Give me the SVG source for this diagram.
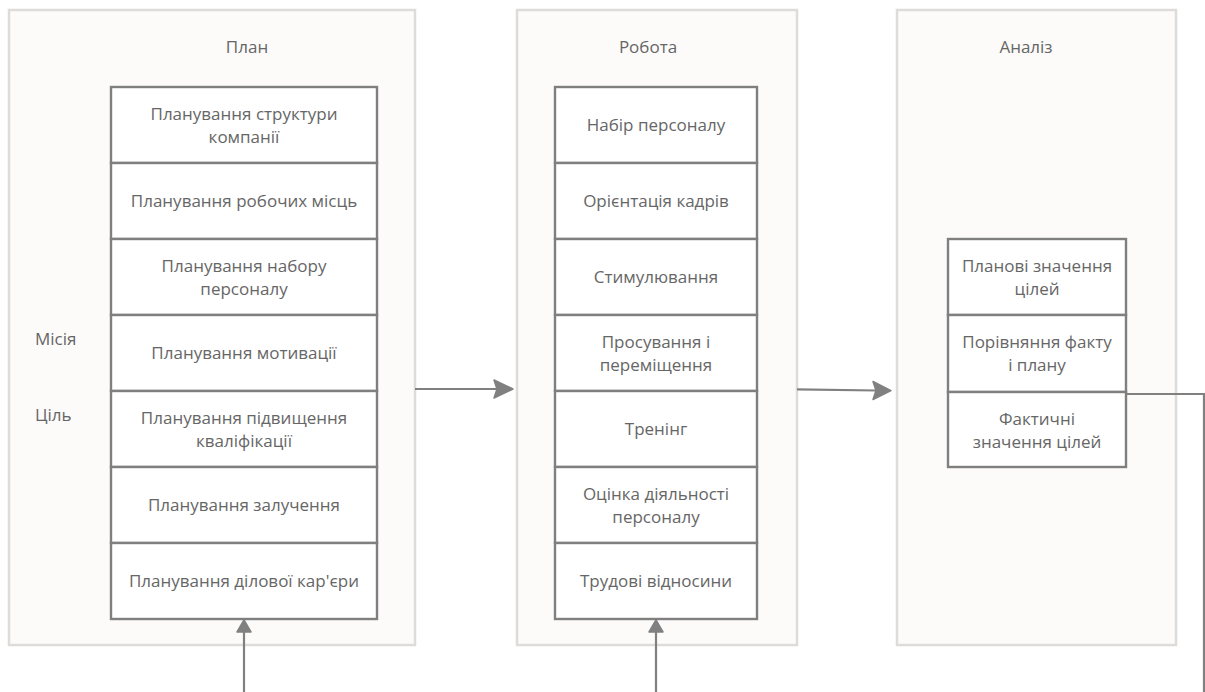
<svg xmlns="http://www.w3.org/2000/svg" width="1205" height="692" viewBox="0 0 1205 692">
  <style>
    .panel { fill: #fcfbfa; stroke: #dddcdb; stroke-width: 2.5; }
    .cell { fill: #ffffff; stroke: #7f7f7f; stroke-width: 2.4; }
    .wire { fill: none; stroke: #808080; stroke-width: 2.2; }
    .head { fill: #808080; stroke: #808080; stroke-width: 1.5; stroke-linejoin: round; }
    text { font-family: "Open Sans", "Noto Sans", "DejaVu Sans", sans-serif; font-size: 17px; fill: #666666; text-anchor: middle; }
    .side { text-anchor: start; }
  </style>
  <rect width="1205" height="692" fill="#ffffff"/>

  <!-- Plan column -->
  <g id="plan">
    <rect class="panel" x="9" y="10" width="406" height="635"/>
    <text x="247" y="53">План</text>
    <text class="side" x="35" y="345">Місія</text>
    <text class="side" x="35" y="421">Ціль</text>
    <g id="plan-structure">
      <rect class="cell" x="111" y="87" width="266" height="76"/>
      <text x="244" y="120">Планування структури</text>
      <text x="244" y="143">компанії</text>
    </g>
    <g id="plan-workplaces">
      <rect class="cell" x="111" y="163" width="266" height="76"/>
      <text x="244" y="207">Планування робочих місць</text>
    </g>
    <g id="plan-recruiting">
      <rect class="cell" x="111" y="239" width="266" height="76"/>
      <text x="244" y="272">Планування набору</text>
      <text x="244" y="295">персоналу</text>
    </g>
    <g id="plan-motivation">
      <rect class="cell" x="111" y="315" width="266" height="76"/>
      <text x="244" y="359">Планування мотивації</text>
    </g>
    <g id="plan-qualification">
      <rect class="cell" x="111" y="391" width="266" height="76"/>
      <text x="244" y="424">Планування підвищення</text>
      <text x="244" y="447">кваліфікації</text>
    </g>
    <g id="plan-engagement">
      <rect class="cell" x="111" y="467" width="266" height="76"/>
      <text x="244" y="511">Планування залучення</text>
    </g>
    <g id="plan-career">
      <rect class="cell" x="111" y="543" width="266" height="76"/>
      <text x="244" y="587">Планування ділової кар'єри</text>
    </g>
  </g>

  <!-- Work column -->
  <g id="work">
    <rect class="panel" x="517" y="10" width="280" height="635"/>
    <text x="648" y="53">Робота</text>
    <g id="work-hiring">
      <rect class="cell" x="555" y="87" width="202" height="76"/>
      <text x="656" y="131">Набір персоналу</text>
    </g>
    <g id="work-orientation">
      <rect class="cell" x="555" y="163" width="202" height="76"/>
      <text x="656" y="207">Орієнтація кадрів</text>
    </g>
    <g id="work-incentives">
      <rect class="cell" x="555" y="239" width="202" height="76"/>
      <text x="656" y="283">Стимулювання</text>
    </g>
    <g id="work-promotion">
      <rect class="cell" x="555" y="315" width="202" height="76"/>
      <text x="656" y="348">Просування і</text>
      <text x="656" y="371">переміщення</text>
    </g>
    <g id="work-training">
      <rect class="cell" x="555" y="391" width="202" height="76"/>
      <text x="656" y="435">Тренінг</text>
    </g>
    <g id="work-evaluation">
      <rect class="cell" x="555" y="467" width="202" height="76"/>
      <text x="656" y="500">Оцінка діяльності</text>
      <text x="656" y="523">персоналу</text>
    </g>
    <g id="work-relations">
      <rect class="cell" x="555" y="543" width="202" height="76"/>
      <text x="656" y="587">Трудові відносини</text>
    </g>
  </g>

  <!-- Analysis column -->
  <g id="analysis">
    <rect class="panel" x="897" y="10" width="279" height="635"/>
    <text x="1026" y="53">Аналіз</text>
    <g id="analysis-planned">
      <rect class="cell" x="948" y="239" width="178" height="76"/>
      <text x="1037" y="272">Планові значення</text>
      <text x="1037" y="295">цілей</text>
    </g>
    <g id="analysis-compare">
      <rect class="cell" x="948" y="315" width="178" height="77"/>
      <text x="1037" y="348">Порівняння факту</text>
      <text x="1037" y="371">і плану</text>
    </g>
    <g id="analysis-actual">
      <rect class="cell" x="948" y="392" width="178" height="75"/>
      <text x="1037" y="425">Фактичні</text>
      <text x="1037" y="448">значення цілей</text>
    </g>
  </g>

  <!-- Connectors -->
  <g id="connectors">
    <path class="wire" d="M415 389 L497 389"/>
    <path class="head" d="M513 389 L494 380 L497 389 L494 398 Z"/>
    <path class="wire" d="M797 389.3 L876 390.5"/>
    <path class="head" d="M891 390.7 L873 381.5 L876 390.6 L873 399.5 Z"/>
    <path class="wire" d="M244 692 L244 631"/>
    <path class="head" d="M244 620 L237 632 L251 632 Z"/>
    <path class="wire" d="M656 692 L656 631"/>
    <path class="head" d="M656 620 L649 632 L663 632 Z"/>
    <path class="wire" d="M1126 394 L1204 394 L1204 692"/>
  </g>
</svg>
